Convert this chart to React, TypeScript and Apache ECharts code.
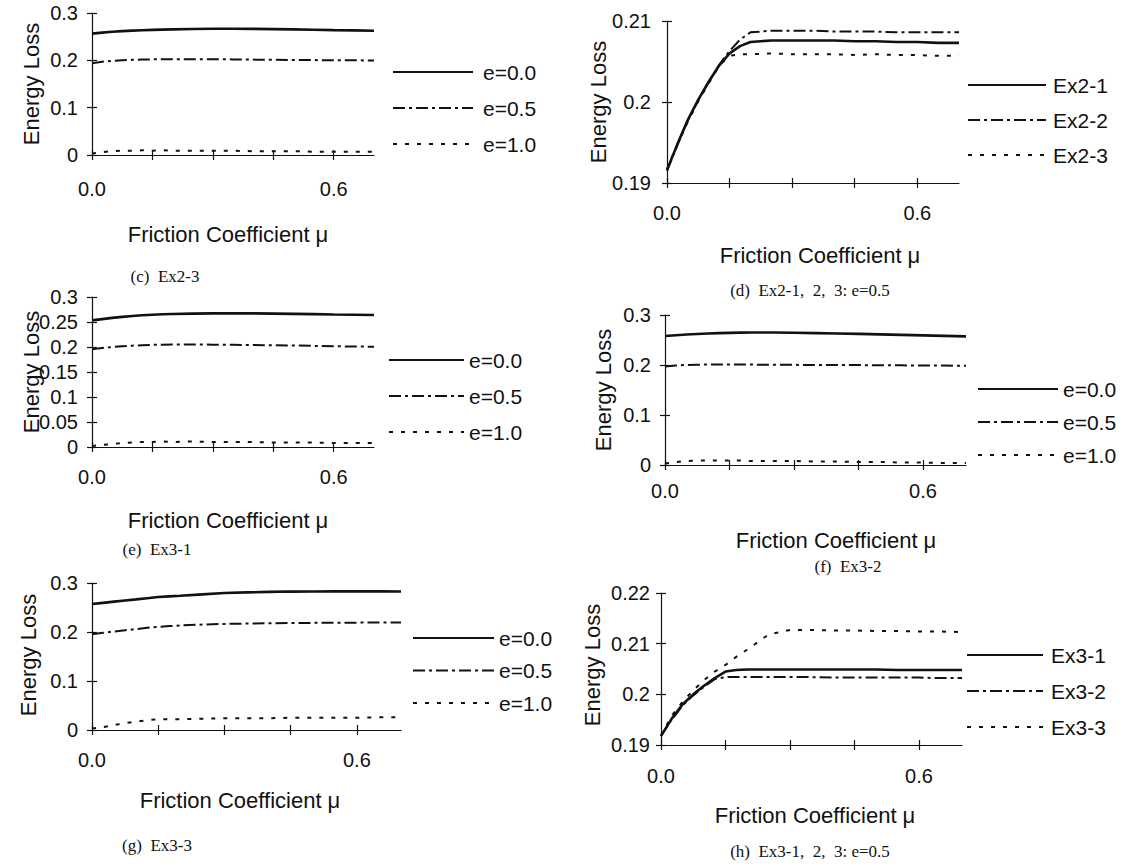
import React, { useEffect, useRef } from "react";
import * as echarts from "echarts";

// Friction coefficient sample points (shared by all panels)
const MU = [0, 0.025, 0.05, 0.075, 0.1, 0.125, 0.15, 0.175, 0.2, 0.25, 0.3, 0.35, 0.4, 0.45, 0.5, 0.55, 0.6, 0.65, 0.7];

// (c) Ex2-3
const C_E00 = [0.2565, 0.2585, 0.2603, 0.2618, 0.2628, 0.2636, 0.2643, 0.2649, 0.2654, 0.2661, 0.2666, 0.2667, 0.2665, 0.266, 0.2653, 0.2646, 0.2638, 0.2632, 0.2626];
const C_E05 = [0.194, 0.197, 0.199, 0.2, 0.201, 0.2015, 0.202, 0.2024, 0.2025, 0.2025, 0.2022, 0.202, 0.2015, 0.201, 0.2008, 0.2005, 0.2002, 0.2, 0.1998];
const C_E10 = [0.003, 0.006, 0.008, 0.009, 0.009, 0.01, 0.009, 0.01, 0.009, 0.009, 0.009, 0.009, 0.008, 0.008, 0.008, 0.007, 0.007, 0.007, 0.007];

// (d) Ex2-1, 2, 3: e=0.5
const D_EX21 = [0.1916, 0.1948, 0.1978, 0.2003, 0.2025, 0.2045, 0.206, 0.2069, 0.2074, 0.2076, 0.2076, 0.2076, 0.2076, 0.2075, 0.2075, 0.2074, 0.2074, 0.2073, 0.2073];
const D_EX22 = [0.1915, 0.1947, 0.1977, 0.2002, 0.2025, 0.2046, 0.2063, 0.2077, 0.2086, 0.2088, 0.2088, 0.2088, 0.2087, 0.2087, 0.2087, 0.2086, 0.2086, 0.2086, 0.2086];
const D_EX23 = [0.1917, 0.1948, 0.1976, 0.2001, 0.2023, 0.2045, 0.2057, 0.2059, 0.2059, 0.206, 0.2059, 0.2059, 0.2059, 0.2058, 0.2059, 0.2058, 0.2058, 0.2057, 0.2057];

// (e) Ex3-1
const E_E00 = [0.2532, 0.2558, 0.2582, 0.2603, 0.262, 0.2634, 0.2645, 0.2654, 0.266, 0.2668, 0.2673, 0.2674, 0.2672, 0.2668, 0.2663, 0.2657, 0.265, 0.2645, 0.264];
const E_E05 = [0.1955, 0.198, 0.2, 0.2015, 0.2027, 0.2036, 0.2042, 0.2046, 0.2048, 0.2049, 0.2047, 0.2044, 0.204, 0.2035, 0.203, 0.2022, 0.2015, 0.201, 0.2005];
const E_E10 = [0.002, 0.004, 0.006, 0.008, 0.009, 0.01, 0.01, 0.011, 0.01, 0.011, 0.01, 0.01, 0.01, 0.009, 0.009, 0.009, 0.008, 0.008, 0.008];

// (f) Ex3-2
const F_E00 = [0.258, 0.2595, 0.261, 0.262, 0.263, 0.2637, 0.2643, 0.2648, 0.265, 0.265, 0.2645, 0.2638, 0.263, 0.2622, 0.2613, 0.2603, 0.2593, 0.2583, 0.2573];
const F_E05 = [0.197, 0.199, 0.2, 0.2005, 0.201, 0.201, 0.201, 0.2008, 0.2008, 0.2005, 0.2003, 0.2, 0.2, 0.1998, 0.1995, 0.1993, 0.199, 0.1988, 0.1985];
const F_E10 = [0.003, 0.006, 0.008, 0.009, 0.009, 0.009, 0.009, 0.009, 0.008, 0.008, 0.008, 0.007, 0.007, 0.006, 0.006, 0.005, 0.005, 0.004, 0.004];

// (g) Ex3-3
const G_E00 = [0.257, 0.2595, 0.262, 0.2643, 0.2665, 0.269, 0.2713, 0.2728, 0.274, 0.2768, 0.2795, 0.2808, 0.2818, 0.2825, 0.2828, 0.283, 0.283, 0.283, 0.2828];
const G_E05 = [0.1955, 0.1985, 0.201, 0.2035, 0.206, 0.2085, 0.2105, 0.212, 0.2133, 0.2152, 0.2165, 0.2172, 0.2178, 0.2182, 0.2186, 0.2189, 0.2191, 0.2193, 0.2195];
const G_E10 = [0.003, 0.006, 0.01, 0.014, 0.017, 0.02, 0.022, 0.022, 0.022, 0.023, 0.024, 0.024, 0.024, 0.025, 0.025, 0.025, 0.025, 0.026, 0.026];

// (h) Ex3-1, 2, 3: e=0.5
const H_EX31 = [0.1918, 0.1952, 0.198, 0.2, 0.2017, 0.2032, 0.2045, 0.2048, 0.2049, 0.2049, 0.2049, 0.2049, 0.2049, 0.2049, 0.2049, 0.2048, 0.2048, 0.2048, 0.2048];
const H_EX32 = [0.1918, 0.195, 0.1978, 0.1998, 0.2015, 0.203, 0.2034, 0.2034, 0.2034, 0.2034, 0.2034, 0.2034, 0.2033, 0.2033, 0.2033, 0.2033, 0.2033, 0.2032, 0.2032];
const H_EX33 = [0.1918, 0.1958, 0.1985, 0.2008, 0.2028, 0.2045, 0.2058, 0.2074, 0.2088, 0.2118, 0.2127, 0.2127, 0.2126, 0.2126, 0.2125, 0.2125, 0.2124, 0.2124, 0.2123];

// Tick positions and labels
const X_TICKS = [0, 0.15, 0.3, 0.45, 0.6];
const X_LABELS = [0, 0.6];
const Y_TITLE = "Energy Loss";
const X_TITLE = "Friction Coefficient \u03bc";
const E_NAMES = ["e=0.0", "e=0.5", "e=1.0"];
const EX2_NAMES = ["Ex2-1", "Ex2-2", "Ex2-3"];
const EX3_NAMES = ["Ex3-1", "Ex3-2", "Ex3-3"];
const CAPTIONS = [
  "(c)\u00a0\u00a0Ex2-3",
  "(d)\u00a0\u00a0Ex2-1,\u00a0\u00a02,\u00a0\u00a03:\u00a0e=0.5",
  "(e)\u00a0\u00a0Ex3-1",
  "(f)\u00a0\u00a0Ex3-2",
  "(g)\u00a0\u00a0Ex3-3",
  "(h)\u00a0\u00a0Ex3-1,\u00a0\u00a02,\u00a0\u00a03:\u00a0e=0.5",
];

const FONT = '"Liberation Sans", Arial, Helvetica, sans-serif';
const SERIF = '"Liberation Serif", "Times New Roman", serif';
const INK = "#111";

const STYLES = [
  { width: 2.6, type: "solid" as any },
  { width: 2, type: [12, 4, 3, 4] as any },
  { width: 2, type: [4, 8] as any },
];

type Panel = {
  grid: { left: number; top: number; width: number; height: number };
  y: { min: number; max: number; interval: number };
  names: string[];
  data: number[][];
  xMargin: number;
  yMargin: number;
  legend: { left: number; top: number; gap: number; width: number; pad: number };
  yTitle: [number, number];
  xTitle: [number, number];
  caption: [number, number];
};

const PANELS: Panel[] = [
  {
    grid: { left: 92, top: 13, width: 282, height: 142 },
    y: { min: 0, max: 0.3, interval: 0.1 },
    names: E_NAMES,
    data: [C_E00, C_E05, C_E10],
    xMargin: 24, yMargin: 14,
    legend: { left: 392, top: 61, gap: 14, width: 80, pad: 5 },
    yTitle: [31, 84], xTitle: [228, 234], caption: [165, 276],
  },
  {
    grid: { left: 667, top: 21, width: 292, height: 162 },
    y: { min: 0.19, max: 0.21, interval: 0.01 },
    names: EX2_NAMES,
    data: [D_EX21, D_EX22, D_EX23],
    xMargin: 20, yMargin: 16,
    legend: { left: 967, top: 74, gap: 13, width: 78, pad: 2 },
    yTitle: [598, 102], xTitle: [820, 255], caption: [810, 290],
  },
  {
    grid: { left: 92, top: 297, width: 282, height: 150 },
    y: { min: 0, max: 0.3, interval: 0.05 },
    names: E_NAMES,
    data: [E_E00, E_E05, E_E10],
    xMargin: 20, yMargin: 14,
    legend: { left: 388, top: 349, gap: 14, width: 75, pad: 0 },
    yTitle: [31, 372], xTitle: [228, 520], caption: [157, 549],
  },
  {
    grid: { left: 665, top: 315, width: 301, height: 150 },
    y: { min: 0, max: 0.3, interval: 0.1 },
    names: E_NAMES,
    data: [F_E00, F_E05, F_E10],
    xMargin: 16, yMargin: 14,
    legend: { left: 977, top: 378, gap: 11, width: 80, pad: 0 },
    yTitle: [603, 390], xTitle: [836, 540], caption: [848, 566],
  },
  {
    grid: { left: 92, top: 583, width: 309, height: 147 },
    y: { min: 0, max: 0.3, interval: 0.1 },
    names: E_NAMES,
    data: [G_E00, G_E05, G_E10],
    xMargin: 20, yMargin: 14,
    legend: { left: 412, top: 627, gap: 10.5, width: 81, pad: 0 },
    yTitle: [28, 655], xTitle: [240, 800], caption: [157, 845],
  },
  {
    grid: { left: 661, top: 593, width: 301, height: 152 },
    y: { min: 0.19, max: 0.22, interval: 0.01 },
    names: EX3_NAMES,
    data: [H_EX31, H_EX32, H_EX33],
    xMargin: 21, yMargin: 11,
    legend: { left: 966, top: 644, gap: 14, width: 76, pad: 3 },
    yTitle: [592, 665], xTitle: [815, 815], caption: [810, 851],
  },
];

function buildOption() {
  const grid: any[] = [];
  const xAxis: any[] = [];
  const yAxis: any[] = [];
  const series: any[] = [];
  const legend: any[] = [];
  const graphic: any[] = [];

  PANELS.forEach((p, i) => {
    grid.push({ ...p.grid, containLabel: false });
    xAxis.push({
      type: "value",
      gridIndex: i,
      min: 0,
      max: 0.7,
      interval: 0.15,
      position: "bottom",
      axisLine: { show: true, onZero: false, lineStyle: { color: INK, width: 1.2 } },
      axisTick: { show: true, length: 5, customValues: X_TICKS, lineStyle: { color: INK, width: 1.2 } },
      axisLabel: {
        customValues: X_LABELS,
        margin: p.xMargin,
        fontSize: 20,
        fontFamily: FONT,
        color: INK,
        formatter: (v: number) => (Math.abs(v) < 1e-9 || Math.abs(v - 0.6) < 1e-9 ? v.toFixed(1) : ""),
      },
      splitLine: { show: false },
    });
    yAxis.push({
      type: "value",
      gridIndex: i,
      min: p.y.min,
      max: p.y.max,
      interval: p.y.interval,
      position: "left",
      axisLine: { show: true, onZero: false, lineStyle: { color: INK, width: 1.2 } },
      axisTick: { show: true, length: 5, lineStyle: { color: INK, width: 1.2 } },
      axisLabel: { margin: p.yMargin, fontSize: 20, fontFamily: FONT, color: INK },
      splitLine: { show: false },
    });
  });
  // secondary axes: inside ticks so that ticks cross the axis lines
  PANELS.forEach((p, i) => {
    xAxis.push({
      type: "value",
      gridIndex: i,
      min: 0,
      max: 0.7,
      interval: 0.15,
      position: "bottom",
      axisLine: { show: false, onZero: false },
      axisTick: { show: true, inside: true, length: 5, customValues: X_TICKS, lineStyle: { color: INK, width: 1.2 } },
      axisLabel: { show: false },
      splitLine: { show: false },
    });
    yAxis.push({
      type: "value",
      gridIndex: i,
      min: p.y.min,
      max: p.y.max,
      interval: p.y.interval,
      position: "left",
      axisLine: { show: false, onZero: false },
      axisTick: { show: true, inside: true, length: 5, lineStyle: { color: INK, width: 1.2 } },
      axisLabel: { show: false },
      splitLine: { show: false },
    });
  });

  PANELS.forEach((p, i) => {
    p.names.forEach((name, k) => {
      series.push({
        type: "line",
        name,
        xAxisIndex: i,
        yAxisIndex: i,
        data: MU.map((m, j) => [m, p.data[k][j]]),
        symbol: "none",
        showSymbol: false,
        smooth: false,
        silent: true,
        lineStyle: { color: INK, width: STYLES[k].width, type: STYLES[k].type },
        itemStyle: { color: INK },
        z: 3 - k,
      });
    });
    legend.push({
      show: true,
      orient: "vertical",
      left: p.legend.left,
      top: p.legend.top,
      padding: 0,
      itemGap: p.legend.gap,
      itemWidth: p.legend.width,
      itemHeight: 14,
      selectedMode: false,
      data: p.names,
      itemStyle: { opacity: 0, color: "transparent", borderWidth: 0 },
      textStyle: {
        fontSize: 21,
        fontFamily: FONT,
        color: INK,
        lineHeight: 22,
        padding: [0, 0, 0, p.legend.pad],
      },
    });
    graphic.push({
      type: "text",
      x: p.yTitle[0],
      y: p.yTitle[1],
      rotation: Math.PI / 2,
      style: { text: Y_TITLE, fontSize: 22, fontFamily: FONT, fill: INK, align: "center", verticalAlign: "middle" },
    });
    graphic.push({
      type: "text",
      x: p.xTitle[0],
      y: p.xTitle[1],
      style: { text: X_TITLE, fontSize: 22, fontFamily: FONT, fill: INK, align: "center", verticalAlign: "middle" },
    });
    graphic.push({
      type: "text",
      x: p.caption[0],
      y: p.caption[1],
      style: { text: CAPTIONS[i], fontSize: 17, fontFamily: SERIF, fill: INK, align: "center", verticalAlign: "middle" },
    });
  });

  return {
    animation: false,
    backgroundColor: "#fff",
    grid,
    xAxis,
    yAxis,
    series,
    legend,
    graphic,
  };
}

export default function App() {
  const ref = useRef<HTMLDivElement>(null);
  useEffect(() => {
    if (!ref.current) return;
    const chart = echarts.init(ref.current, undefined, { renderer: "svg" });
    chart.setOption(buildOption() as any);
    return () => chart.dispose();
  }, []);
  return (
    <div
      ref={ref}
      style={{ position: "absolute", left: 0, top: 0, width: 1127, height: 867, background: "#fff" }}
    />
  );
}
